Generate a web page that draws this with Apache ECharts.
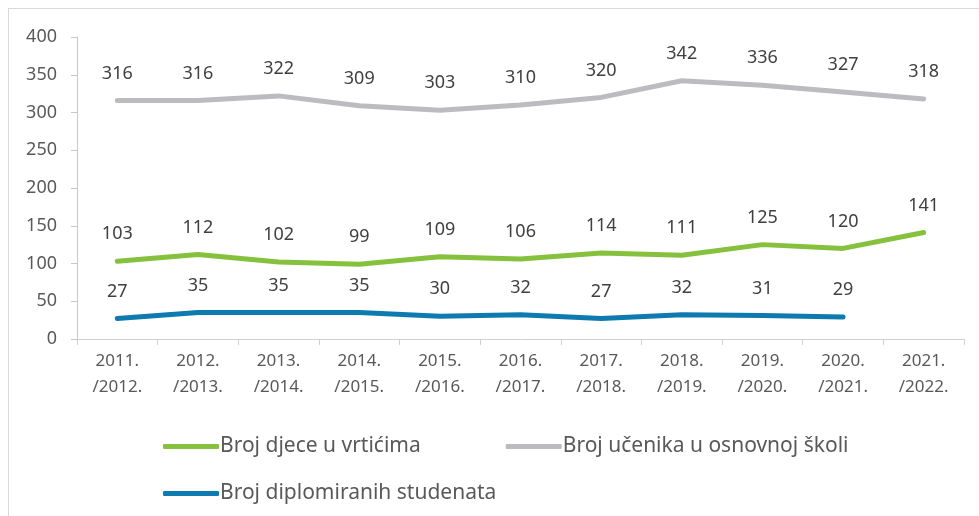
<!DOCTYPE html>
<html>
<head>
<meta charset="utf-8">
<script src="https://cdn.jsdelivr.net/npm/echarts@6/dist/echarts.min.js"></script>
<style>
  html, body { margin: 0; padding: 0; background: #fff; }
  #frame { position: absolute; left: 8px; top: 8px; width: 980px; height: 520px;
           border-top: 1px solid #d9d9d9; border-left: 1px solid #d9d9d9; }
  #chart { position: absolute; left: 0; top: 0; width: 979px; height: 516px; }
</style>
</head>
<body>
<div id="frame"></div>
<div id="chart"></div>
<script>
// podaci
const godine = ['2011.\n/2012.', '2012.\n/2013.', '2013.\n/2014.', '2014.\n/2015.', '2015.\n/2016.',
  '2016.\n/2017.', '2017.\n/2018.', '2018.\n/2019.', '2019.\n/2020.', '2020.\n/2021.', '2021.\n/2022.'];
const vrtici = [103, 112, 102, 99, 109, 106, 114, 111, 125, 120, 141];
const osnovna = [316, 316, 322, 309, 303, 310, 320, 342, 336, 327, 318];
const studenti = [27, 35, 35, 35, 30, 32, 27, 32, 31, 29, null];

const font = '"Noto Sans", sans-serif';
let chart = echarts.init(document.getElementById('chart'));

// linija bez markera, ali s oznakama vrijednosti iznad tocaka
const serija = (name, data, color) => ({
  name: name,
  type: 'line',
  data: data,
  symbol: 'circle',
  symbolSize: 0,
  showSymbol: true,
  connectNulls: false,
  lineStyle: { width: 5, color: color, cap: 'round' },
  itemStyle: { color: color },
  label: {
    show: true, position: 'top', distance: 18,
    color: '#404040', fontSize: 18, fontFamily: font
  }
});

chart.setOption({
  animation: false,
  grid: { left: 77, right: 15, top: 37, bottom: 177 },
  legend: [
    {
      data: ['Broj djece u vrtićima', 'Broj učenika u osnovnoj školi'],
      left: 158, top: 431, itemWidth: 56, itemHeight: 5, itemGap: 85,
      icon: 'roundRect',
      textStyle: { color: '#595959', fontSize: 21, fontFamily: font, padding: [0, 0, 0, -4] }
    },
    {
      data: ['Broj diplomiranih studenata'],
      left: 158, top: 478, itemWidth: 56, itemHeight: 5,
      icon: 'roundRect',
      textStyle: { color: '#595959', fontSize: 21, fontFamily: font, padding: [0, 0, 0, -4] }
    }
  ],
  xAxis: {
    type: 'category',
    data: godine,
    boundaryGap: true,
    axisLine: { lineStyle: { color: '#d0d0d0', width: 1 } },
    axisTick: { show: true, length: 6, lineStyle: { color: '#d0d0d0' } },
    axisLabel: { color: '#595959', fontSize: 17, fontFamily: font, lineHeight: 26, margin: 9 }
  },
  yAxis: {
    type: 'value',
    min: 0, max: 400, interval: 50,
    splitLine: { show: false },
    axisLine: { show: true, lineStyle: { color: '#c8c8c8', width: 1 } },
    axisTick: { show: true, length: 6, lineStyle: { color: '#c8c8c8' } },
    axisLabel: { color: '#595959', fontSize: 18, fontFamily: font, margin: 20 }
  },
  series: [
    serija('Broj djece u vrtićima', vrtici, '#85c13d'),
    serija('Broj učenika u osnovnoj školi', osnovna, '#bcbcc0'),
    serija('Broj diplomiranih studenata', studenti, '#0d7bb0')
  ]
});
</script>
</body>
</html>
